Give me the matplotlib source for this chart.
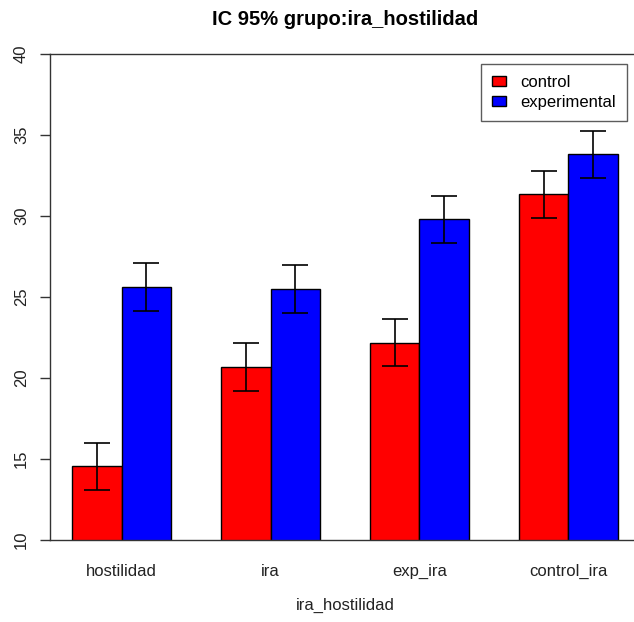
import numpy as np
import matplotlib
matplotlib.use('Agg')
from matplotlib import pyplot as plt

plt.rcParams['font.family'] = ['Liberation Sans', 'DejaVu Sans']

categorias = ['hostilidad', 'ira', 'exp_ira', 'control_ira']
grupos = ['control', 'experimental']
colores = ['red', 'blue']

media_control = [14.55, 20.68, 22.17, 31.35]
media_exp = [25.62, 25.50, 29.80, 33.82]
ci_control = [1.45, 1.48, 1.45, 1.45]
ci_exp = [1.48, 1.46, 1.45, 1.45]

# posiciones tipo barplot(beside=TRUE) de R: ancho 1, espacio 1 entre grupos
n = len(categorias)
x_ctrl = np.array([1.5 + 3 * i for i in range(n)])
x_exp = x_ctrl + 1

fig = plt.figure(figsize=(6.34, 6.22), dpi=100)
ax = fig.add_axes([50 / 634, 82 / 622, 590 / 634, 486 / 622])

ax.bar(x_ctrl, media_control, width=1, bottom=0, color=colores[0],
       edgecolor='black', linewidth=1, label=grupos[0])
ax.bar(x_exp, media_exp, width=1, bottom=0, color=colores[1],
       edgecolor='black', linewidth=1, label=grupos[1])

ax.errorbar(x_ctrl, media_control, yerr=ci_control, fmt='none',
            ecolor='black', elinewidth=1.2, capsize=9.4, capthick=1.2)
ax.errorbar(x_exp, media_exp, yerr=ci_exp, fmt='none',
            ecolor='black', elinewidth=1.2, capsize=9.4, capthick=1.2)

ax.set_xlim(0.56, 12.44)
ax.set_ylim(10, 40)
ax.set_yticks([10, 15, 20, 25, 30, 35, 40])
ax.set_yticklabels(['10', '15', '20', '25', '30', '35', '40'],
                   rotation=90, va='center', fontsize=12, color='#222222')
ax.tick_params(axis='y', direction='out', length=7.2, width=1, pad=8,
               color='#333333')
ax.set_xticks((x_ctrl + x_exp) / 2)
ax.set_xticklabels(categorias, fontsize=12, color='#222222')
ax.tick_params(axis='x', length=0, pad=17)

for s in ax.spines.values():
    s.set_color('#333333')
    s.set_linewidth(1)

ax.set_xlabel('ira_hostilidad', fontsize=12, labelpad=14, color='#222222')
ax.set_title('IC 95% grupo:ira_hostilidad', fontsize=14.5,
             fontweight='bold', pad=21)

leg = ax.legend(loc='upper right', bbox_to_anchor=(577 / 590, 0.979),
                fontsize=12, frameon=True, fancybox=False,
                handlelength=0.8, handleheight=0.6, handletextpad=0.9,
                borderpad=0.65, labelspacing=0.3, borderaxespad=0)
leg.get_frame().set_edgecolor('#333333')
leg.get_frame().set_linewidth(1)

fig.savefig('out.png', dpi=100)
